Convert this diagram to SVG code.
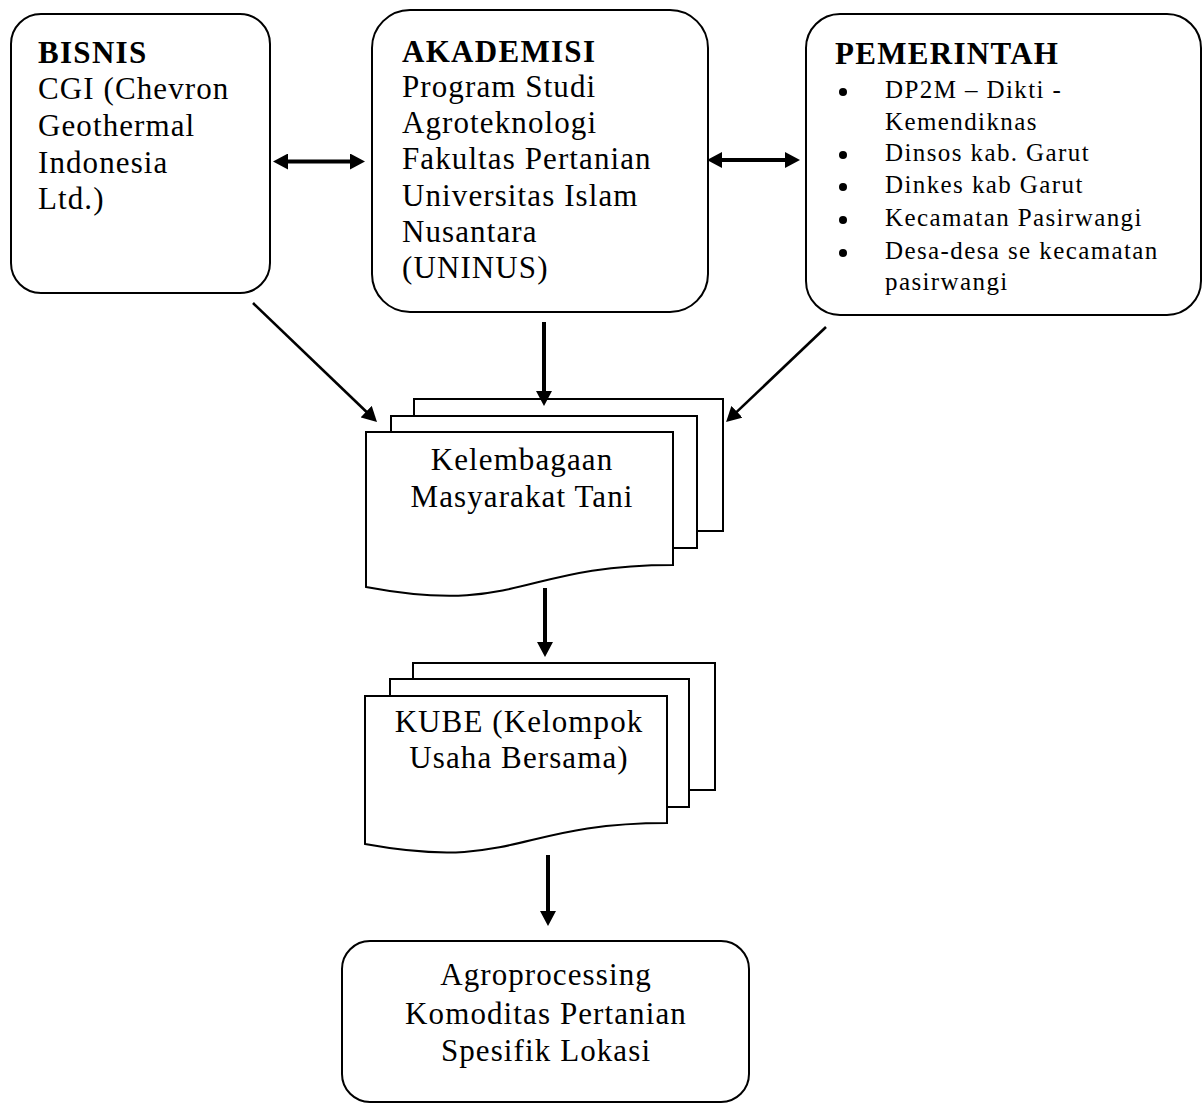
<svg xmlns="http://www.w3.org/2000/svg" width="1203" height="1104" viewBox="0 0 1203 1104">
<style>
  .box { fill: #fff; stroke: #000; stroke-width: 2; }
  .doc { fill: #fff; stroke: #000; stroke-width: 2; stroke-linejoin: miter; }
  .t { font-family: "Liberation Serif", "Times New Roman", serif; font-size: 31px; letter-spacing: 1.1px; fill: #000; }
  .h { font-weight: bold; letter-spacing: 1.3px; }
  .li { font-size: 25px; letter-spacing: 1.4px; }
  .c { text-anchor: middle; }
  .ar { stroke: #000; stroke-width: 4; fill: none; }
  .ard { stroke: #000; stroke-width: 2.6; fill: none; }
</style>
<defs>
  <marker id="ah" markerUnits="userSpaceOnUse" markerWidth="16" markerHeight="16" refX="1" refY="8" orient="auto-start-reverse" viewBox="0 0 16 16">
    <path d="M0,0 L15,8 L0,16 Z" fill="#000"/>
  </marker>
</defs>
<rect width="1203" height="1104" fill="#fff"/>

<g id="bisnis">
  <rect class="box" x="11" y="14" width="259" height="279" rx="30" ry="30"/>
  <text class="t h" x="38" y="63">BISNIS</text>
  <text class="t" x="38" y="99">CGI (Chevron</text>
  <text class="t" x="38" y="136">Geothermal</text>
  <text class="t" x="38" y="173">Indonesia</text>
  <text class="t" x="38" y="209">Ltd.)</text>
</g>

<g id="akademisi">
  <rect class="box" x="372" y="10" width="336" height="302" rx="38" ry="38"/>
  <text class="t h" x="402" y="62">AKADEMISI</text>
  <text class="t" x="402" y="97">Program Studi</text>
  <text class="t" x="402" y="133">Agroteknologi</text>
  <text class="t" x="402" y="169">Fakultas Pertanian</text>
  <text class="t" x="402" y="206">Universitas Islam</text>
  <text class="t" x="402" y="242">Nusantara</text>
  <text class="t" x="402" y="278">(UNINUS)</text>
</g>

<g id="pemerintah">
  <rect class="box" x="806" y="14" width="395" height="301" rx="34" ry="34"/>
  <text class="t h" x="835" y="64">PEMERINTAH</text>
  <circle cx="843" cy="92" r="4"/>
  <text class="t li" x="885" y="98">DP2M – Dikti -</text>
  <text class="t li" x="885" y="130">Kemendiknas</text>
  <circle cx="843" cy="155" r="4"/>
  <text class="t li" x="885" y="161">Dinsos kab. Garut</text>
  <circle cx="843" cy="187" r="4"/>
  <text class="t li" x="885" y="193">Dinkes kab Garut</text>
  <circle cx="843" cy="220" r="4"/>
  <text class="t li" x="885" y="226">Kecamatan Pasirwangi</text>
  <circle cx="843" cy="253" r="4"/>
  <text class="t li" x="885" y="259">Desa-desa se kecamatan</text>
  <text class="t li" x="885" y="290">pasirwangi</text>
</g>

<g id="kelembagaan">
  <rect class="doc" x="414" y="399" width="309" height="132"/>
  <rect class="doc" x="391" y="416" width="306" height="132"/>
  <path class="doc" d="M366,432 L673,432 L673,565 C519.5,565 519.5,615.8 366,587 Z"/>
  <text class="t c" x="522" y="470">Kelembagaan</text>
  <text class="t c" x="522" y="507">Masyarakat Tani</text>
</g>

<g id="kube">
  <rect class="doc" x="413" y="663" width="302" height="127"/>
  <rect class="doc" x="390" y="679" width="299" height="128"/>
  <path class="doc" d="M365,696 L667,696 L667,823 C516,823 516,871.5 365,844 Z"/>
  <text class="t c" x="519" y="732">KUBE (Kelompok</text>
  <text class="t c" x="519" y="768">Usaha Bersama)</text>
</g>

<g id="agroprocessing">
  <rect class="box" x="342" y="941" width="407" height="161" rx="28" ry="28"/>
  <text class="t c" x="546" y="985">Agroprocessing</text>
  <text class="t c" x="546" y="1024">Komoditas Pertanian</text>
  <text class="t c" x="546" y="1061">Spesifik Lokasi</text>
</g>

<g id="connectors">
  <line class="ar" x1="287" y1="161.5" x2="351" y2="161.5" marker-start="url(#ah)" marker-end="url(#ah)"/>
  <line class="ar" x1="721" y1="160" x2="786" y2="160" marker-start="url(#ah)" marker-end="url(#ah)"/>
  <line class="ard" x1="253" y1="303" x2="366.9" y2="412.3" marker-end="url(#ah)"/>
  <line class="ard" x1="826" y1="327" x2="736.2" y2="412.4" marker-end="url(#ah)"/>
  <line class="ar" x1="544" y1="322" x2="544" y2="392" marker-end="url(#ah)"/>
  <line class="ar" x1="545" y1="588" x2="545" y2="643" marker-end="url(#ah)"/>
  <line class="ar" x1="548" y1="855" x2="548" y2="912" marker-end="url(#ah)"/>
</g>
</svg>
